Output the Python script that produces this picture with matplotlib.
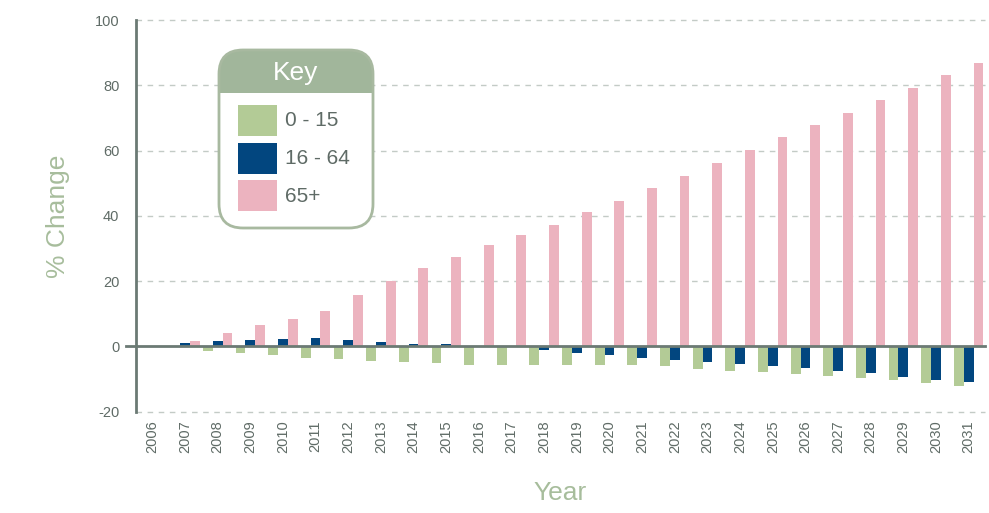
import matplotlib.pyplot as plt
import numpy as np
from matplotlib.patches import FancyBboxPatch, Rectangle

plt.rcParams['font.family'] = ['Liberation Sans', 'DejaVu Sans']
plt.rcParams['axes.unicode_minus'] = False

years = [str(y) for y in range(2006, 2032)]

# % change by age band
age_0_15 = [0, 0, -1.4, -2.0, -2.6, -3.5, -3.8, -4.4, -4.7, -5.0, -5.6, -5.6, -5.6,
            -5.6, -5.6, -5.6, -5.9, -6.8, -7.4, -7.7, -8.3, -9.2, -9.8, -10.4, -11.3, -12.2]
age_16_64 = [0, 1.0, 1.6, 1.9, 2.2, 2.5, 1.9, 1.3, 0.7, 0.7, 0, 0, -1.2,
             -2.0, -2.6, -3.5, -4.1, -4.7, -5.4, -6.0, -6.6, -7.5, -8.2, -9.4, -10.3, -10.9]
age_65_plus = [0, 1.8, 4.1, 6.5, 8.4, 11.0, 15.9, 19.9, 23.9, 27.5, 31.0, 34.0, 37.3,
               41.3, 44.6, 48.6, 52.3, 56.3, 60.2, 64.2, 67.9, 71.6, 75.5, 79.2, 83.2, 86.9]

series_labels = ['0 - 15', '16 - 64', '65+']
colors = ['#b3cb96', '#02467f', '#ecb3bf']

axis_grey = '#6b7a74'
text_grey = '#5f6b66'
title_green = '#a7bd9c'
key_green = '#a1b69b'

fig = plt.figure(figsize=(9.89, 5.13), dpi=100)
ax = fig.add_axes([136 / 989, 1 - 411.7 / 513, 849 / 989, 391.7 / 513])

x = np.arange(len(years))
w = 0.3
ax.bar(x - w, age_0_15, width=w, color=colors[0], zorder=3)
ax.bar(x, age_16_64, width=w, color=colors[1], zorder=3)
ax.bar(x + w, age_65_plus, width=w, color=colors[2], zorder=3)

ax.set_xlim(-0.5, len(years) - 0.5)
ax.set_ylim(-20, 100)
ax.set_yticks(range(-20, 101, 20))
ax.set_xticks(x)
ax.set_xticklabels(years, rotation=90)
ax.tick_params(axis='both', length=0, labelsize=10.5, colors=text_grey)
ax.tick_params(axis='y', pad=12)
ax.tick_params(axis='x', pad=6)

for gy in [-20, 20, 40, 60, 80, 100]:
    ax.axhline(gy, color='#c3cbc6', lw=1, ls=(0, (4, 4)), zorder=1, clip_on=False)
ax.axhline(0, xmin=-0.012, xmax=1, color=axis_grey, lw=2, zorder=4, clip_on=False)

for s in ['top', 'right', 'bottom']:
    ax.spines[s].set_visible(False)
ax.spines['left'].set_color(axis_grey)
ax.spines['left'].set_linewidth(2)

ax.set_xlabel('Year', fontsize=19, color=title_green, labelpad=20)
ax.set_ylabel('% Change', fontsize=19, color=title_green, labelpad=18)

# key box in pixel space
kax = fig.add_axes([0, 0, 1, 1])
kax.set_xlim(0, 989)
kax.set_ylim(513, 0)
kax.axis('off')

box = FancyBboxPatch((219, 50), 154, 178, boxstyle='round,pad=0,rounding_size=24',
                     facecolor='white', edgecolor='none', zorder=1)
kax.add_patch(box)
header = Rectangle((215, 45), 165, 48, facecolor=key_green, edgecolor='none', zorder=2)
kax.add_patch(header)
header.set_clip_path(box)
border = FancyBboxPatch((219, 50), 154, 178, boxstyle='round,pad=0,rounding_size=24',
                        facecolor='none', edgecolor='#a8b9a0', lw=2, zorder=3)
kax.add_patch(border)
kax.text(296, 73, 'Key', color='white', fontsize=19, ha='center', va='center', zorder=4)

for i, (lab, c) in enumerate(zip(series_labels, colors)):
    top = 105 + i * 37.5
    kax.add_patch(Rectangle((238, top), 39, 31, facecolor=c, edgecolor='none', zorder=4))
    kax.text(285, top + 16, lab, color=text_grey, fontsize=15, va='center', zorder=4)

fig.savefig('out.png', dpi=100)
